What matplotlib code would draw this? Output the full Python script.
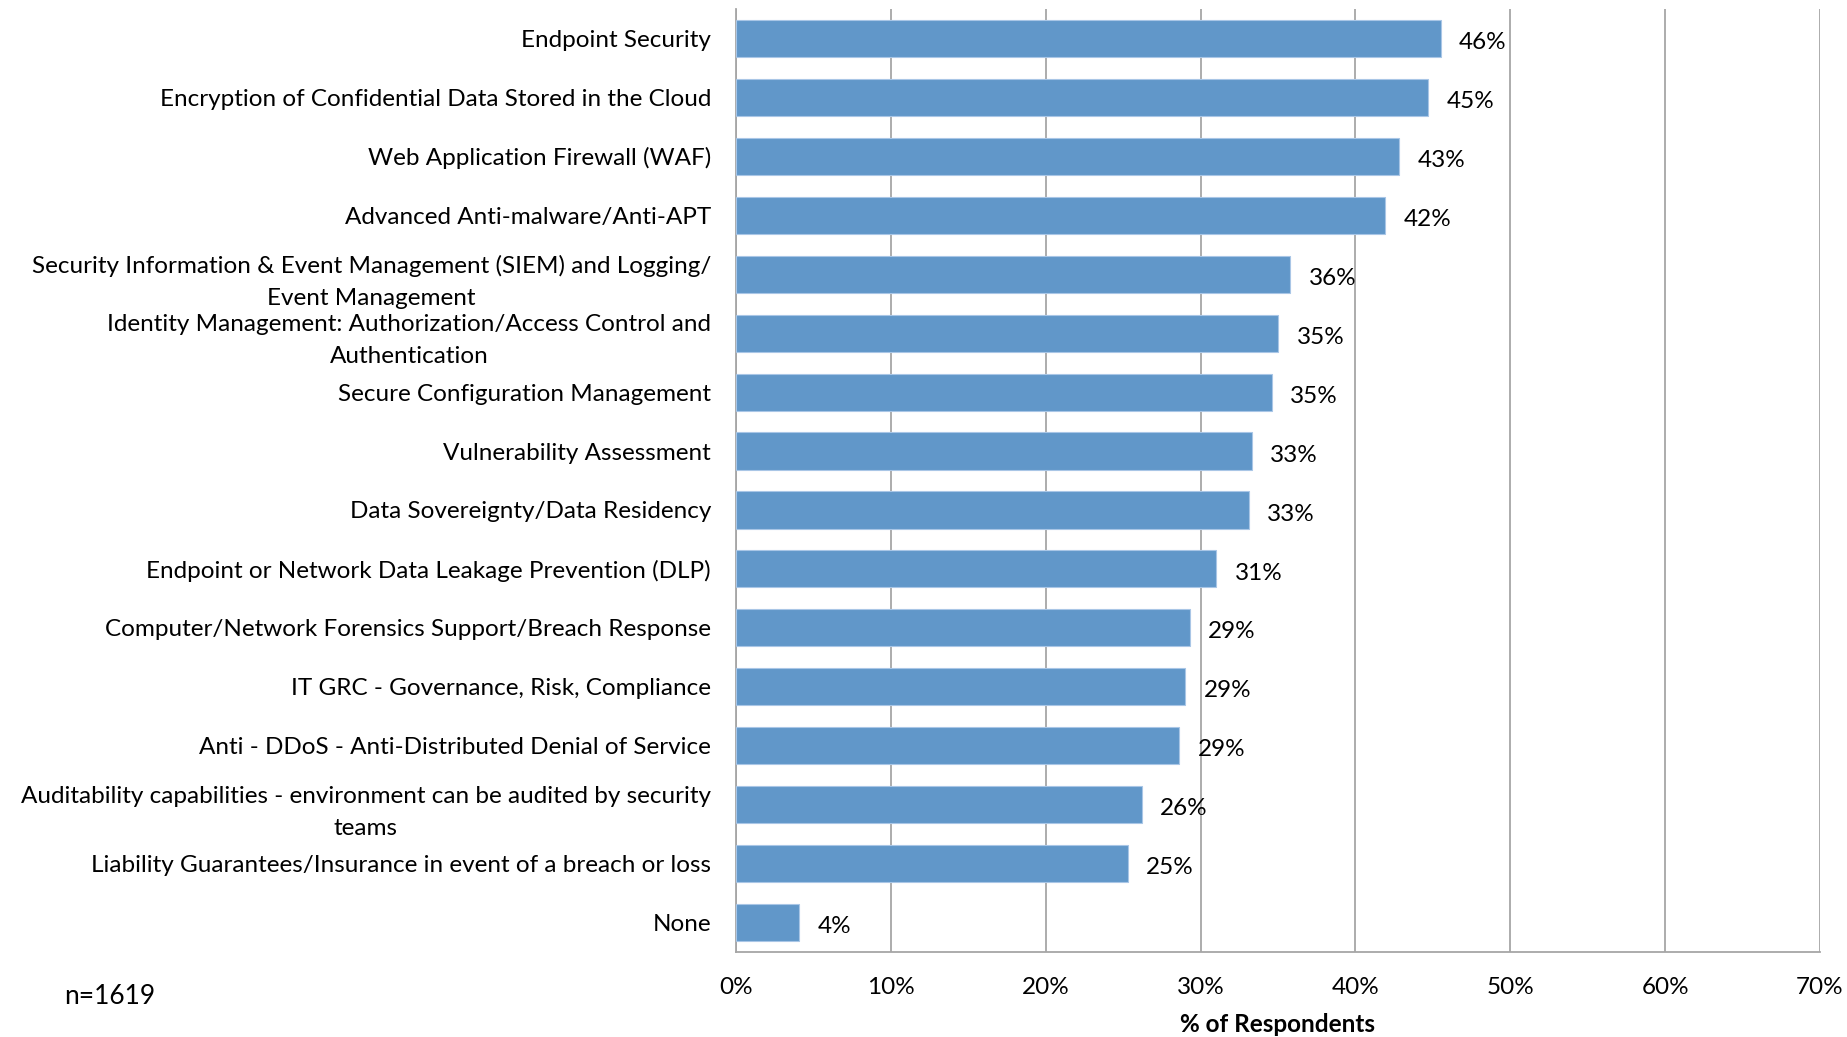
import matplotlib.pyplot as plt
from matplotlib.ticker import FuncFormatter

plt.rcParams['font.family'] = ['Lato', 'DejaVu Sans']

categories = [
    "Endpoint Security",
    "Encryption of Confidential Data Stored in the Cloud",
    "Web Application Firewall (WAF)",
    "Advanced Anti-malware/Anti-APT",
    "Security Information & Event Management (SIEM) and Logging/\nEvent Management",
    "Identity Management: Authorization/Access Control and\nAuthentication",
    "Secure Configuration Management",
    "Vulnerability Assessment",
    "Data Sovereignty/Data Residency",
    "Endpoint or Network Data Leakage Prevention (DLP)",
    "Computer/Network Forensics Support/Breach Response",
    "IT GRC - Governance, Risk, Compliance",
    "Anti - DDoS - Anti-Distributed Denial of Service",
    "Auditability capabilities - environment can be audited by security\nteams",
    "Liability Guarantees/Insurance in event of a breach or loss",
    "None",
]
values = [45.5, 44.7, 42.8, 41.9, 35.8, 35.0, 34.6, 33.3, 33.1, 31.0,
          29.3, 29.0, 28.6, 26.2, 25.3, 4.1]
labels = ["46%", "45%", "43%", "42%", "36%", "35%", "35%", "33%", "33%", "31%",
          "29%", "29%", "29%", "26%", "25%", "4%"]

fig = plt.figure(figsize=(18.47, 10.37), dpi=100)
ax = fig.add_axes([736 / 1847, 1 - 952 / 1037, (1820 - 736) / 1847, (952 - 9) / 1037])

y = list(range(len(categories)))
ax.barh(y, values, height=0.63, color='#6197C9', edgecolor='#A9C6E6', linewidth=0.8, zorder=3)
for yi, v, lab in zip(y, values, labels):
    ax.text(v + 1.2, yi + 0.07, lab, va='center', ha='left', fontsize=17.5, color='black')

ax.set_ylim(len(categories) - 0.5, -0.5)
ax.set_xlim(0, 70)
ax.set_xticks(range(0, 71, 10))
ax.xaxis.set_major_formatter(FuncFormatter(lambda x, p: f"{int(x)}%"))
ax.set_yticks(y)
ax.set_yticklabels(categories, fontsize=17.5, multialignment='center', linespacing=1.65)
ax.tick_params(axis='both', length=0, labelsize=17.5)
ax.tick_params(axis='y', pad=18)
ax.tick_params(axis='x', pad=18)
ax.grid(axis='x', color='#A6A6A6', linewidth=1.3, zorder=0)
for s in ['top', 'right']:
    ax.spines[s].set_visible(False)
ax.spines['left'].set_color('#A6A6A6')
ax.spines['bottom'].set_color('#A6A6A6')
ax.spines['left'].set_linewidth(1.3)
ax.spines['bottom'].set_linewidth(1.3)

ax.set_xlabel("% of Respondents", fontsize=17.5, fontweight='bold', labelpad=11)
fig.text(64 / 1847, 1 - 997 / 1037, "n=1619", fontsize=19, va='center', ha='left')

fig.savefig("out.png", dpi=100)
